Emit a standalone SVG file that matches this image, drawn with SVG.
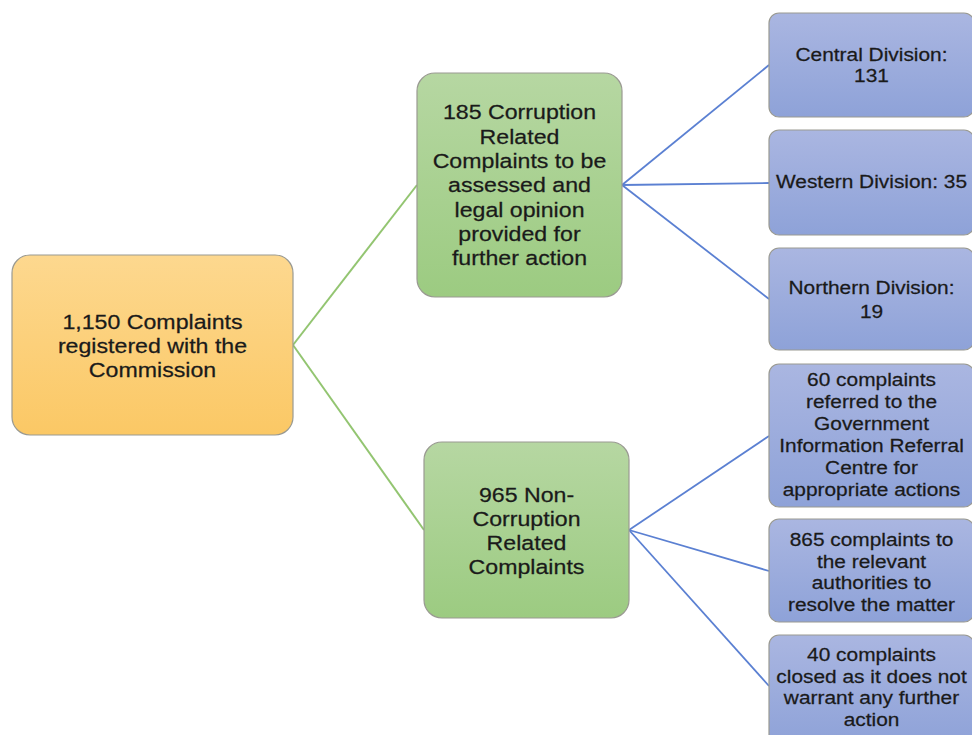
<svg xmlns="http://www.w3.org/2000/svg" width="972" height="735" viewBox="0 0 972 735">
<defs>
<linearGradient id="gOrange" x1="0" y1="0" x2="0" y2="1"><stop offset="0" stop-color="#fdd88f"/><stop offset="1" stop-color="#fbc865"/></linearGradient>
<linearGradient id="gGreen" x1="0" y1="0" x2="0" y2="1"><stop offset="0" stop-color="#b6d7a2"/><stop offset="1" stop-color="#9ccb81"/></linearGradient>
<linearGradient id="gBlue" x1="0" y1="0" x2="0" y2="1"><stop offset="0" stop-color="#aab6e1"/><stop offset="1" stop-color="#8ea2d8"/></linearGradient>
<style>
.box{stroke:#9a9a92;stroke-width:1.2}
.t{font-family:"Liberation Sans",Arial,sans-serif;fill:#1a1a1a;stroke:#1a1a1a;stroke-width:0.25;text-anchor:middle}
.big{font-size:20.5px}
.small{font-size:18.5px}
.cg{stroke:#93c571;stroke-width:2;fill:none}
.cb{stroke:#5b80d2;stroke-width:1.8;fill:none}
</style>
</defs>
<rect width="972" height="735" fill="#ffffff"/>
<g id="connectors">
<line class="cg" x1="293" y1="345" x2="417" y2="185"/>
<line class="cg" x1="293" y1="345" x2="424" y2="530"/>
<line class="cb" x1="622" y1="185" x2="769" y2="65"/>
<line class="cb" x1="622" y1="185" x2="769" y2="183"/>
<line class="cb" x1="622" y1="185" x2="769" y2="299"/>
<line class="cb" x1="629" y1="530" x2="769" y2="436"/>
<line class="cb" x1="629" y1="530" x2="769" y2="571"/>
<line class="cb" x1="629" y1="530" x2="769" y2="686"/>
</g>
<g id="root">
<rect class="box" x="12" y="255" width="281" height="180" rx="18" fill="url(#gOrange)"/>
<text class="t big" transform="translate(152.5,0) scale(1.13,1)"><tspan x="0" y="329">1,150 Complaints</tspan><tspan x="0" y="353">registered with the</tspan><tspan x="0" y="377">Commission</tspan></text>
</g>
<g id="corruption">
<rect class="box" x="417" y="73" width="205" height="224" rx="18" fill="url(#gGreen)"/>
<text class="t big" transform="translate(519.5,0) scale(1.13,1)"><tspan x="0" y="119.5">185 Corruption</tspan><tspan x="0" y="143.8">Related</tspan><tspan x="0" y="168.1">Complaints to be</tspan><tspan x="0" y="192.4">assessed and</tspan><tspan x="0" y="216.7">legal opinion</tspan><tspan x="0" y="241">provided for</tspan><tspan x="0" y="265.3">further action</tspan></text>
</g>
<g id="noncorruption">
<rect class="box" x="424" y="442" width="205" height="176" rx="18" fill="url(#gGreen)"/>
<text class="t big" transform="translate(526.5,0) scale(1.13,1)"><tspan x="0" y="502">965 Non-</tspan><tspan x="0" y="526">Corruption</tspan><tspan x="0" y="550">Related</tspan><tspan x="0" y="574">Complaints</tspan></text>
</g>
<g id="central">
<rect class="box" x="769" y="13" width="205" height="104" rx="10" fill="url(#gBlue)"/>
<text class="t small" transform="translate(871.5,0) scale(1.13,1)"><tspan x="0" y="61.5">Central Division:</tspan><tspan x="0" y="82.5">131</tspan></text>
</g>
<g id="western">
<rect class="box" x="769" y="130" width="205" height="105" rx="10" fill="url(#gBlue)"/>
<text class="t small" transform="translate(871.5,0) scale(1.13,1)"><tspan x="0" y="188">Western Division: 35</tspan></text>
</g>
<g id="northern">
<rect class="box" x="769" y="248" width="205" height="102" rx="10" fill="url(#gBlue)"/>
<text class="t small" transform="translate(871.5,0) scale(1.13,1)"><tspan x="0" y="294">Northern Division:</tspan><tspan x="0" y="318">19</tspan></text>
</g>
<g id="referred">
<rect class="box" x="769" y="364" width="205" height="143" rx="10" fill="url(#gBlue)"/>
<text class="t small" transform="translate(871.5,0) scale(1.13,1)"><tspan x="0" y="386.5">60 complaints</tspan><tspan x="0" y="408.5">referred to the</tspan><tspan x="0" y="430.5">Government</tspan><tspan x="0" y="452.5">Information Referral</tspan><tspan x="0" y="474.5">Centre for</tspan><tspan x="0" y="496.5">appropriate actions</tspan></text>
</g>
<g id="authorities">
<rect class="box" x="769" y="519" width="205" height="103" rx="10" fill="url(#gBlue)"/>
<text class="t small" transform="translate(871.5,0) scale(1.13,1)"><tspan x="0" y="546.5">865 complaints to</tspan><tspan x="0" y="568">the relevant</tspan><tspan x="0" y="589.5">authorities to</tspan><tspan x="0" y="611">resolve the matter</tspan></text>
</g>
<g id="closed">
<rect class="box" x="769" y="635" width="205" height="110" rx="10" fill="url(#gBlue)"/>
<text class="t small" transform="translate(871.5,0) scale(1.13,1)"><tspan x="0" y="661.5">40 complaints</tspan><tspan x="0" y="683">closed as it does not</tspan><tspan x="0" y="704.5">warrant any further</tspan><tspan x="0" y="726">action</tspan></text>
</g>
</svg>
